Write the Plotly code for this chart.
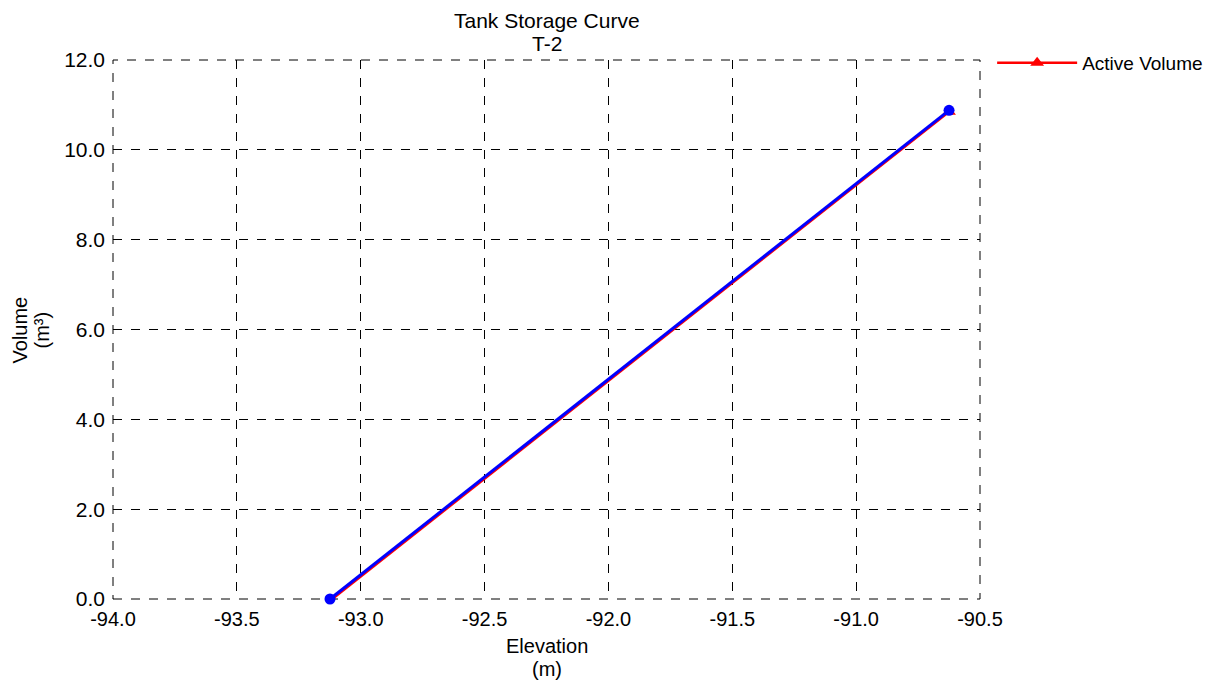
import plotly.graph_objects as go

elev_active = [-93.124, -90.625]
vol_active = [-0.04, 10.85]
elev_curve = [-93.124, -90.625]
vol_curve = [0.0, 10.88]

x_ticks = [-94.0, -93.5, -93.0, -92.5, -92.0, -91.5, -91.0, -90.5]
y_ticks = [0.0, 2.0, 4.0, 6.0, 8.0, 10.0, 12.0]

font_main = "Liberation Sans, Arial, sans-serif"

fig = go.Figure()
fig.add_trace(go.Scatter(
    x=elev_active, y=vol_active, mode="lines+markers", name="Active Volume",
    line=dict(color="#ff0000", width=2.5),
    marker=dict(symbol="triangle-up", size=12, color="#ff0000"),
    cliponaxis=False,
))
fig.add_trace(go.Scatter(
    x=elev_curve, y=vol_curve, mode="lines+markers", name="Curve",
    showlegend=False,
    line=dict(color="#0000ff", width=3),
    marker=dict(symbol="circle", size=11, color="#0000ff"),
    cliponaxis=False,
))

axis_common = dict(
    showgrid=True, gridcolor="black", griddash="dash", gridwidth=1,
    zeroline=False, showline=False,
    ticks="",
)

title_font = dict(family=font_main, size=21, color="black")
axis_font = dict(family=font_main, size=20, color="black")

fig.update_layout(
    width=1212, height=679,
    paper_bgcolor="white", plot_bgcolor="white",
    margin=dict(l=105, r=240, t=52, b=88),
    xaxis=dict(range=[-94.0, -90.5], tickvals=x_ticks, ticklabelstandoff=6,
               tickfont=dict(family=font_main, size=20, color="black"),
               ticktext=[f"{v:.1f}" for v in x_ticks], **axis_common),
    yaxis=dict(range=[0.0, 12.0], tickvals=y_ticks, ticklabelstandoff=7,
               tickfont=dict(family=font_main, size=21, color="black"),
               ticktext=[f"{v:.1f}" for v in y_ticks], **axis_common),
    legend=dict(x=1.014, y=1.03, xanchor="left", yanchor="top",
                font=dict(family=font_main, size=19, color="black"),
                bgcolor="rgba(0,0,0,0)", itemwidth=80),
    shapes=[dict(type="rect", xref="paper", yref="paper", x0=0, y0=0, x1=1, y1=1,
                 line=dict(color="black", width=1, dash="dash"), layer="below")],
    annotations=[
        dict(text="Tank Storage Curve", xref="paper", yref="paper", x=0.5, y=1.0742,
             xanchor="center", yanchor="middle", showarrow=False, font=title_font),
        dict(text="T-2", xref="paper", yref="paper", x=0.5, y=1.0297,
             xanchor="center", yanchor="middle", showarrow=False, font=title_font),
        dict(text="Elevation", xref="paper", yref="paper", x=0.5, y=-0.088,
             xanchor="center", yanchor="middle", showarrow=False, font=axis_font),
        dict(text="(m)", xref="paper", yref="paper", x=0.5, y=-0.13,
             xanchor="center", yanchor="middle", showarrow=False, font=axis_font),
        dict(text="Volume", xref="paper", yref="paper", x=-0.1073, y=0.5,
             xanchor="center", yanchor="middle", showarrow=False, textangle=-90, font=axis_font),
        dict(text="(m³)", xref="paper", yref="paper", x=-0.0819, y=0.5,
             xanchor="center", yanchor="middle", showarrow=False, textangle=-90, font=axis_font),
    ],
)

fig.write_html("out.html")
